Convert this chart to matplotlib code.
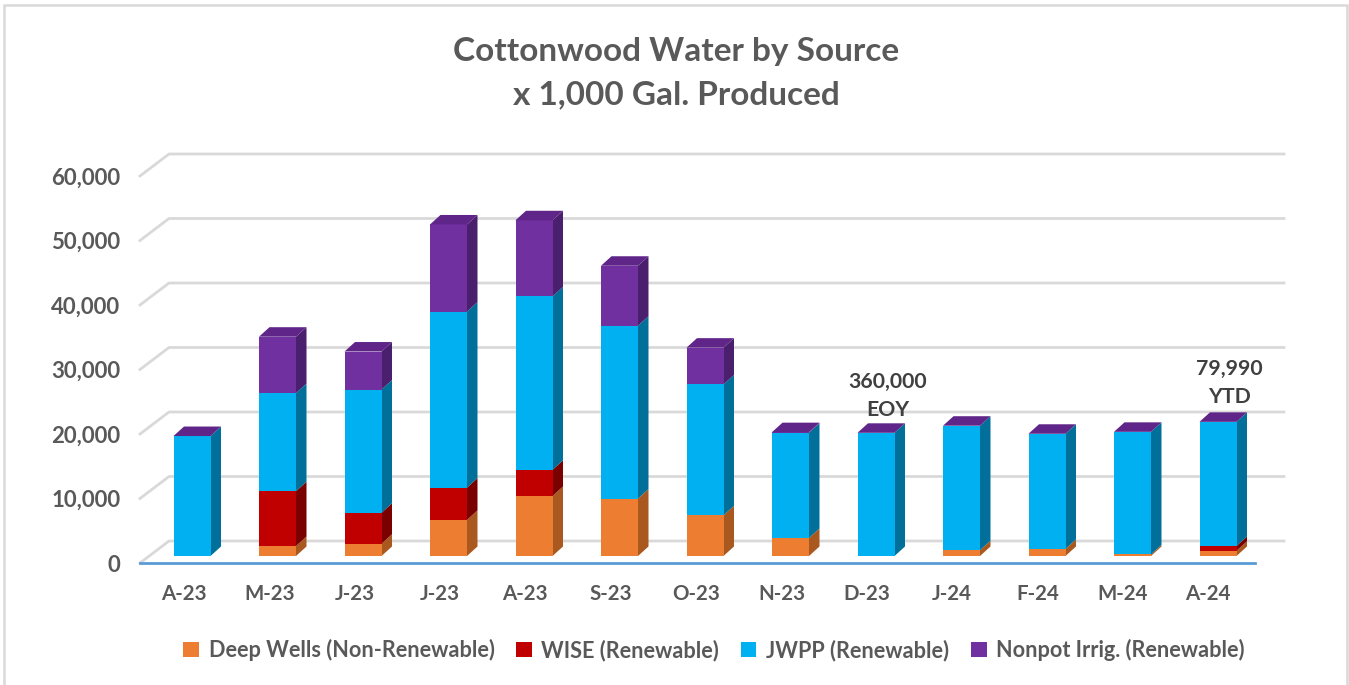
import matplotlib
matplotlib.use('Agg')
import matplotlib.pyplot as plt
from matplotlib.patches import Polygon, Rectangle
import numpy as np

plt.rcParams['font.family'] = ['Lato', 'DejaVu Sans']
plt.rcParams['font.weight'] = 'bold'

months = ['A-23', 'M-23', 'J-23', 'J-23', 'A-23', 'S-23', 'O-23', 'N-23', 'D-23', 'J-24', 'F-24', 'M-24', 'A-24']
deep_wells = [0, 1550, 1900, 5600, 9300, 8900, 6300, 2800, 0, 900, 1100, 250, 800]
wise = [0, 8500, 4800, 5000, 4050, 0, 0, 0, 0, 0, 0, 0, 750]
jwpp = [18600, 15200, 19100, 27300, 26900, 26800, 20300, 16300, 19100, 19300, 17850, 19000, 19250]
nonpot = [0, 8750, 5900, 13500, 11800, 9300, 5700, 100, 0, 0, 0, 0, 0]
names = ['Deep Wells (Non-Renewable)', 'WISE (Renewable)', 'JWPP (Renewable)', 'Nonpot Irrig. (Renewable)']
yticks = [0, 10000, 20000, 30000, 40000, 50000, 60000]

front = ['#ED7D31', '#C00000', '#00B0F0', '#7030A0']
side = ['#A9591F', '#7A0000', '#00709A', '#4A1F6E']
cap = '#5F2588'
grey = '#595959'

W, H = 1349, 685
fig = plt.figure(figsize=(W / 100, H / 100), dpi=100)
fig.patch.set_facecolor('white')
fig.add_artist(Rectangle((4 / W, -5 / H), (W - 6) / W, 1, transform=fig.transFigure,
                         fill=False, ec='#D9D9D9', lw=1.8))

# front plane of the chart, everything 3d is offset from it
px = 85.35  # pixels per category
py = 64.5 / 10000  # pixels per gallon unit
ax = fig.add_axes([140 / W, 1 - 563 / H, 1115 / W, 423 / H])
xmin = (140 - 184) / px
ax.set_xlim(xmin, xmin + 1115 / px)
ax.set_ylim(0, 423 / py)
for s in ['top', 'left', 'right']:
    ax.spines[s].set_visible(False)
ax.spines['bottom'].set_color('#5B9BD5')
ax.spines['bottom'].set_linewidth(2)

# gridlines run along the back wall
for v in yticks:
    ax.plot([xmin, xmin + 29 / px, xmin + 1144 / px], [v, v + 22 / py, v + 22 / py],
            color='#D9D9D9', lw=2, clip_on=False, zorder=1)

x = np.arange(len(months))
bar_x = x * 85.5 / px + 8 / px
bar_w = 37 / px
lift = 7 / py
dx = 10.5 / px
dy = 9.5 / py

bottom = np.zeros(len(months))
series = [deep_wells, wise, jwpp, nonpot]
for i, vals in enumerate(series):
    vals = np.array(vals, dtype=float)
    ax.bar(bar_x, vals, bar_w, bottom=bottom + lift, color=front[i], label=names[i], zorder=4, clip_on=False)
    for j in range(len(months)):
        if vals[j] == 0:
            continue
        r = bar_x[j] + bar_w / 2
        b = bottom[j] + lift
        t = b + vals[j]
        ax.add_patch(Polygon([(r, b), (r + dx, b + dy), (r + dx, t + dy), (r, t)],
                             fc=side[i], ec='none', zorder=3, clip_on=False))
    bottom = bottom + vals

# top of each stack
for j in range(len(months)):
    l = bar_x[j] - bar_w / 2
    r = bar_x[j] + bar_w / 2
    t = bottom[j] + lift
    ax.add_patch(Polygon([(l, t), (l + dx, t + dy), (r + dx, t + dy), (r, t)],
                         fc=cap, ec='none', zorder=5, clip_on=False))

ax.set_xticks(x)
ax.set_xticklabels(months, fontsize=14.8, color=grey)
ax.set_yticks(yticks)
ax.set_yticklabels([f'{v:,}' for v in yticks], fontsize=16, color=grey)
ax.tick_params(axis='x', length=0, pad=15)
ax.tick_params(axis='y', length=0, pad=14)

ax.text(8 + 21 / px, 25900, '360,000\nEOY', ha='center', va='center', fontsize=15.3,
        color='#404040', linespacing=1.5)
ax.text(12 + 21 / px, 27900, '79,990\nYTD', ha='center', va='center', fontsize=15.3,
        color='#404040', linespacing=1.5)

fig.text(676 / W, 1 - 73 / H, 'Cottonwood Water by Source\nx 1,000 Gal. Produced', ha='center', va='center',
         fontsize=24, color=grey, linespacing=1.6)

leg = fig.legend(loc='center', bbox_to_anchor=(714 / W, 1 - 650 / H), ncol=4, frameon=False,
                 fontsize=15.6, handlelength=0.72, handleheight=0.72, handletextpad=0.45, columnspacing=1.0)
for t in leg.get_texts():
    t.set_color(grey)

fig.savefig('out.png', dpi=100)
